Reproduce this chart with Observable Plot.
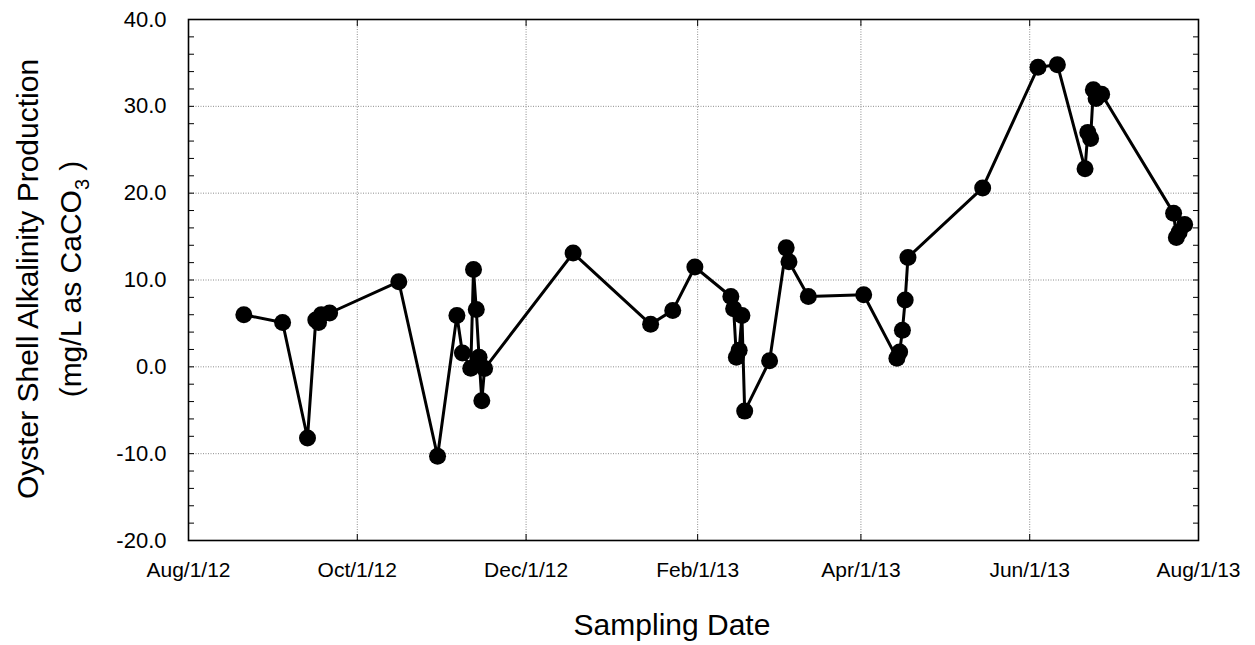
<!DOCTYPE html>
<html>
<head>
<meta charset="utf-8">
<script src="https://cdn.jsdelivr.net/npm/d3@7"></script>
<script src="https://cdn.jsdelivr.net/npm/@observablehq/plot@0.6"></script>
<style>
  html, body { margin: 0; padding: 0; background: #fff; }
  svg { display: block; }
</style>
</head>
<body>
<div id="chart"></div>
<script>
// Sampling dates (UTC) and oyster shell alkalinity production (mg/L as CaCO3)
const sampleDates = [
  "2012-08-21","2012-09-04","2012-09-13","2012-09-16","2012-09-17","2012-09-18","2012-09-21",
  "2012-10-16","2012-10-30","2012-11-06","2012-11-08","2012-11-11","2012-11-12","2012-11-13",
  "2012-11-14","2012-11-15","2012-11-16","2012-12-18","2013-01-15","2013-01-23","2013-01-31",
  "2013-02-13","2013-02-14","2013-02-15","2013-02-16","2013-02-17","2013-02-18","2013-02-27",
  "2013-03-05","2013-03-06","2013-03-13","2013-04-02","2013-04-14","2013-04-15","2013-04-16",
  "2013-04-17","2013-04-18","2013-05-15","2013-06-04","2013-06-11","2013-06-21","2013-06-22",
  "2013-06-23","2013-06-24","2013-06-25","2013-06-27","2013-07-23","2013-07-24","2013-07-25",
  "2013-07-27"
];
const alkalinity = [
  6.0, 5.1, -8.2, 5.4, 5.1, 6.0, 6.2,
  9.8, -10.3, 5.9, 1.6, -0.15, 11.2, 6.6,
  1.1, -3.9, -0.2, 13.1, 4.9, 6.5, 11.5,
  8.1, 6.7, 1.1, 1.9, 5.9, -5.1, 0.7,
  13.7, 12.1, 8.1, 8.3, 1.0, 1.7, 4.2,
  7.7, 12.6, 20.6, 34.5, 34.8, 22.8, 27.0,
  26.3, 31.9, 30.9, 31.4, 17.7, 14.9, 15.5,
  16.4
];

const xTickDates = ["2012-08-01","2012-10-01","2012-12-01","2013-02-01","2013-04-01","2013-06-01","2013-08-01"];
const yMajorTicks = [-20, -10, 0, 10, 20, 30, 40];
const yMinorTicks = [-20,-18,-16,-14,-12,-10,-8,-6,-4,-2,0,2,4,6,8,10,12,14,16,18,20,22,24,26,28,30,32,34,36,38,40];
const monthNames = ["Jan","Feb","Mar","Apr","May","Jun","Jul","Aug","Sep","Oct","Nov","Dec"];

const xLabel = "Sampling Date";
const yLabelLine1 = "Oyster Shell Alkalinity Production";
const yLabelLine2 = "(mg/L as CaCO";
const yLabelSub = "3";

const parse = s => new Date(s + "T00:00:00Z");
const data = sampleDates.map((d, i) => ({date: parse(d), value: alkalinity[i]}));
const xTicks = xTickDates.map(parse);
const fmtDate = d => `${monthNames[d.getUTCMonth()]}/${d.getUTCDate()}/${String(d.getUTCFullYear()).slice(2)}`;

const FONT = "'Liberation Sans', Arial, Helvetica, sans-serif";

const chart = Plot.plot({
  width: 1255,
  height: 645,
  marginLeft: 188,
  marginRight: 57,
  marginTop: 19,
  marginBottom: 105,
  style: {fontFamily: FONT, fontSize: "22px", color: "black", background: "white"},
  x: {type: "utc", domain: [xTicks[0], xTicks[xTicks.length - 1]]},
  y: {domain: [-20, 40]},
  marks: [
    Plot.gridX(xTicks, {stroke: "#8c8c8c", strokeOpacity: 1, strokeWidth: 1, strokeDasharray: "1,1.5"}),
    Plot.gridY(yMajorTicks, {stroke: "#8c8c8c", strokeOpacity: 1, strokeWidth: 1, strokeDasharray: "1,1.5"}),
    Plot.axisX(xTicks, {anchor: "bottom", tickSize: 0, tickPadding: 22, tickFormat: fmtDate, label: null, fontSize: 21}),
    Plot.axisX(xTicks, {anchor: "bottom", tickSize: -6, tickFormat: () => "", label: null}),
    Plot.axisX(xTicks, {anchor: "top", tickSize: -6, tickFormat: () => "", label: null}),
    Plot.axisY(yMajorTicks, {anchor: "left", tickSize: 0, tickPadding: 22, tickFormat: d => d.toFixed(1), label: null, fontSize: 22}),
    Plot.axisY(yMinorTicks, {anchor: "left", tickSize: -6, tickFormat: () => "", label: null}),
    Plot.axisY(yMinorTicks, {anchor: "right", tickSize: -6, tickFormat: () => "", label: null}),
    Plot.frame({stroke: "black", strokeWidth: 1.6}),
    Plot.line(data, {x: "date", y: "value", stroke: "black", strokeWidth: 3}),
    Plot.dot(data, {x: "date", y: "value", r: 8.5, fill: "black", stroke: "none"})
  ]
});

document.getElementById("chart").appendChild(chart);

// Axis titles (with subscript) added as real text
const svg = d3.select(chart);
const g = svg.append("g").attr("font-family", FONT).attr("fill", "black");
g.append("text")
  .attr("x", 672).attr("y", 635)
  .attr("text-anchor", "middle")
  .attr("font-size", 30)
  .text(xLabel);
g.append("text")
  .attr("transform", "translate(38,279) rotate(-90)")
  .attr("text-anchor", "middle")
  .attr("font-size", 30)
  .text(yLabelLine1);
const t2 = g.append("text")
  .attr("transform", "translate(81,279) rotate(-90)")
  .attr("text-anchor", "middle")
  .attr("font-size", 30);
t2.append("tspan").text(yLabelLine2);
t2.append("tspan").attr("font-size", 20).attr("dy", 8).text(yLabelSub);
t2.append("tspan").attr("dy", -8).text(" )");
</script>
</body>
</html>
